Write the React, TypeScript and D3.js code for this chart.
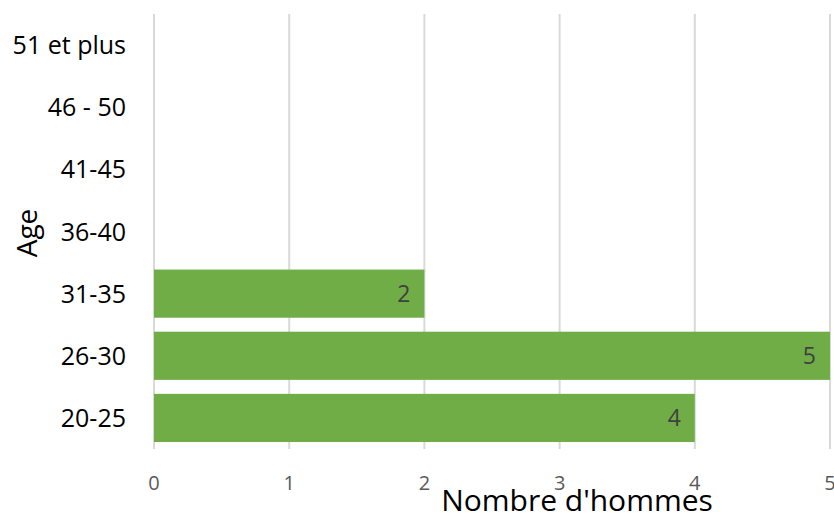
import React from "react";
import * as d3 from "d3";

const categories = ["20-25", "26-30", "31-35", "36-40", "41-45", "46 - 50", "51 et plus"];
const values: (number | null)[] = [4, 5, 2, null, null, null, null];
const xTicks = [0, 1, 2, 3, 4, 5];

const W = 834;
const H = 516;
const FONT = "'Open Sans', 'Noto Sans', sans-serif";

export default function App() {
  const left = 154;
  const right = 830;
  const top = 14;
  const bottom = 449;
  const x = d3.scaleLinear().domain([0, 5]).range([left, right]);
  const y = d3
    .scaleBand<string>()
    .domain(categories)
    .range([bottom, top])
    .paddingInner(0.225)
    .paddingOuter(0.1125);

  return (
    <svg width={W} height={H} style={{ position: "absolute", left: 0, top: 0, background: "#fff" }}>
      {xTicks.map((t) => (
        <line key={t} x1={x(t)} x2={x(t)} y1={top} y2={bottom} stroke="#d9d9d9" strokeWidth={2} />
      ))}
      {categories.map((c, i) => {
        const v = values[i];
        if (v == null) return null;
        return (
          <g key={c}>
            <rect x={x(0)} y={y(c)} width={x(v) - x(0)} height={y.bandwidth()} fill="#70ad47" />
            <text
              x={x(v) - 14}
              y={(y(c) as number) + y.bandwidth() / 2}
              dy="0.36em"
              textAnchor="end"
              fontFamily={FONT}
              fontSize={23}
              fill="#404040"
            >
              {v}
            </text>
          </g>
        );
      })}
      {categories.map((c) => (
        <text
          key={c}
          x={126}
          y={(y(c) as number) + y.bandwidth() / 2}
          dy="0.36em"
          textAnchor="end"
          fontFamily={FONT}
          fontSize={25}
          fill="#000"
        >
          {c}
        </text>
      ))}
      {xTicks.map((t) => (
        <text
          key={t}
          x={x(t)}
          y={483}
          dy="0.36em"
          textAnchor="middle"
          fontFamily={FONT}
          fontSize={20}
          fill="#595959"
        >
          {t}
        </text>
      ))}
      <text
        x={577}
        y={511}
        textAnchor="middle"
        fontFamily={FONT}
        fontSize={30}
        fill="#000"
      >
        Nombre d'hommes
      </text>
      <text
        transform={`translate(37, 233) rotate(-90)`}
        textAnchor="middle"
        fontFamily={FONT}
        fontSize={28}
        fill="#000"
      >
        Age
      </text>
    </svg>
  );
}
